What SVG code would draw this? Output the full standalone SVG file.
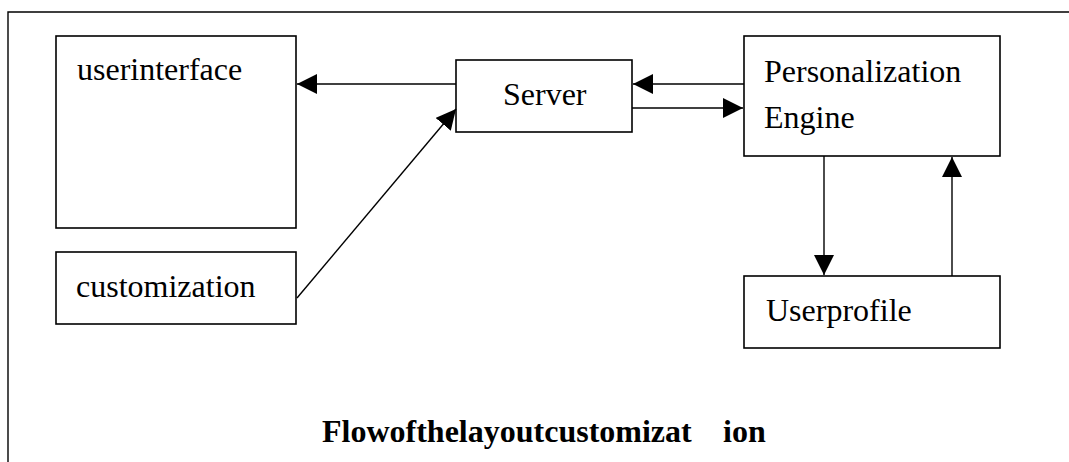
<svg xmlns="http://www.w3.org/2000/svg" width="1069" height="462" viewBox="0 0 1069 462">
  <style>
    .box { fill: #ffffff; stroke: #000000; stroke-width: 1.6; }
    .lbl { font-family: "Liberation Serif", "Times New Roman", serif; font-size: 32px; fill: #000000; }
    .title { font-family: "Liberation Serif", "Times New Roman", serif; font-size: 32px; font-weight: bold; fill: #000000; }
    .edge { fill: none; stroke: #000000; stroke-width: 1.4; marker-end: url(#head); }
    .frame { fill: none; stroke: #000000; stroke-width: 1.4; }
  </style>
  <defs>
    <marker id="head" markerUnits="userSpaceOnUse" markerWidth="20" markerHeight="20" refX="20" refY="10" orient="auto" viewBox="0 0 20 20">
      <path d="M0,0 L20,10 L0,20 Z" fill="#000000"/>
    </marker>
  </defs>

  <rect width="1069" height="462" fill="#ffffff"/>
  <path class="frame" d="M8,462 V12 H1069"/>

  <g id="userinterface">
    <rect class="box" x="56" y="36" width="240" height="192"/>
    <text class="lbl" x="77" y="80">userinterface</text>
  </g>

  <g id="customization">
    <rect class="box" x="56" y="252" width="240" height="72"/>
    <text class="lbl" x="76" y="297">customization</text>
  </g>

  <g id="server">
    <rect class="box" x="456" y="60" width="176" height="72"/>
    <text class="lbl" x="503" y="105">Server</text>
  </g>

  <g id="personalization-engine">
    <rect class="box" x="744" y="36" width="256" height="120"/>
    <text class="lbl" x="764" y="82">Personalization</text>
    <text class="lbl" x="764" y="128">Engine</text>
  </g>

  <g id="userprofile">
    <rect class="box" x="744" y="276" width="256" height="72"/>
    <text class="lbl" x="766" y="321">Userprofile</text>
  </g>

  <g id="connectors">
    <line class="edge" x1="456" y1="84" x2="297" y2="84"/>
    <line class="edge" x1="744" y1="84" x2="633" y2="84"/>
    <line class="edge" x1="632" y1="108" x2="743" y2="108"/>
    <line class="edge" x1="297" y1="298" x2="456" y2="109"/>
    <line class="edge" x1="824" y1="156" x2="824" y2="275"/>
    <line class="edge" x1="952" y1="276" x2="952" y2="157"/>
  </g>

  <text class="title" x="322" y="442">Flowofthelayoutcustomizat <tspan x="723">ion</tspan></text>
</svg>
